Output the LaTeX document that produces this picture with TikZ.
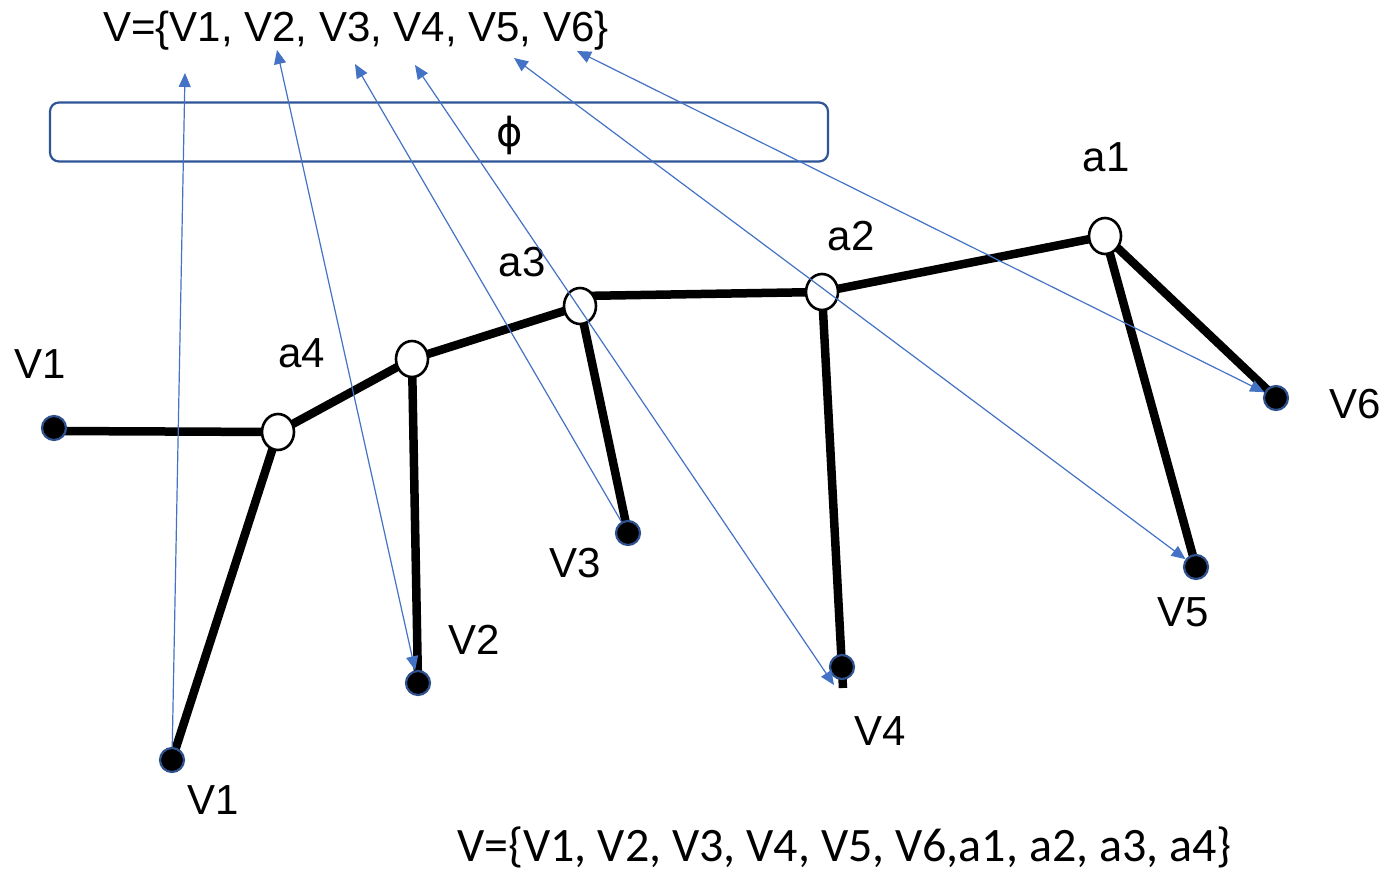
\documentclass[tikz,border=0pt]{standalone}
\usepackage{fontspec}
\setmainfont{Liberation Sans}
\newfontfamily\calfont{Carlito}
\newfontfamily\djfont{DejaVu Sans}
\usetikzlibrary{shapes.geometric,arrows.meta,backgrounds}
\definecolor{linkblue}{HTML}{4472C4}
\definecolor{dotblue}{HTML}{2F528F}
\definecolor{boxblue}{HTML}{2F5597}
\begin{document}
\begin{tikzpicture}[x=1pt,y=-1pt,
  hub/.style={ellipse,draw=black,fill=white,line width=2.6pt,minimum width=32pt,minimum height=36pt,inner sep=0pt},
  leaf/.style={circle,draw=dotblue,fill=black,line width=2.2pt,minimum size=24pt,inner sep=0pt},
  edge/.style={line width=8.5pt,black},
  lab/.style={font=\fontsize{42}{42}\selectfont,inner sep=0pt},
  link/.style={draw=linkblue,line width=1.2pt},
  onetip/.style={link,-{Triangle[length=14pt,width=12pt]}},
  twotip/.style={link,{Triangle[length=14pt,width=12pt]}-{Triangle[length=14pt,width=12pt]}},
  setbox/.style={draw=boxblue,line width=2.2pt,rounded corners=9pt}
]
\useasboundingbox (0,0) rectangle (1388,872);

% hubs
\node[hub] (a4) at (278,432) {};
\node[hub] (b4) at (412,359) {};
\node[hub] (a3) at (580,306) {};
\node[hub] (a2) at (822,292) {};
\node[hub] (a1) at (1105,236) {};
% leaves
\node[leaf] (v1l) at (54,428) {};
\node[leaf] (v1b) at (172,760) {};
\node[leaf] (v2) at (418,683) {};
\node[leaf] (v3) at (628,533) {};
\node[leaf] (v4) at (842,667) {};
\node[leaf] (v5) at (1196,567) {};
\node[leaf] (v6) at (1276,398) {};
\coordinate (v4end) at (843,688);

\begin{scope}[on background layer]
\fill[white] (0,0) rectangle (1388,872);
\draw[edge] ([yshift=-3pt]v1l.center) -- (a4.center);
\draw[edge] (a4.center) -- (v1b.center);
\draw[edge] (a4.center) -- (b4.center);
\draw[edge] (b4.center) -- (v2.center);
\draw[edge] (b4.center) -- (a3.center);
\draw[edge] (a3.center) -- (v3.center);
\draw[edge] ([yshift=10pt]a3.center) -- (a2.center);
\draw[edge] (a2.center) -- (v4end);
\draw[edge] (a2.center) -- (a1.center);
\draw[edge] (a1.center) -- (v5.center);
\draw[edge] (a1.center) -- (v6.center);
\end{scope}

% labels
\node[lab] (lv1l) at (40,364) {V1};
\node[lab] (la4) at (302,353) {a4};
\node[lab] (la3) at (522,262) {a3};
\node[lab] (la2) at (851,236) {a2};
\node[lab] (la1) at (1106,157) {a1};
\node[lab] (lv6) at (1355,404) {V6};
\node[lab] (lv5) at (1183,612) {V5};
\node[lab] (lv4) at (880,731) {V4};
\node[lab] (lv2) at (474,640) {V2};
\node[lab] (lv3) at (575,563) {V3};
\node[lab] (lv1b) at (213,800) {V1};

% box
\node[setbox,minimum width=778pt,minimum height=59pt,inner sep=0pt] (phi) at (439,132) {};
\node[font=\djfont\fontsize{40}{40}\selectfont,inner sep=0pt] (phitext) at (510,135) {ϕ};

% texts
\node[anchor=base west,inner sep=0pt,font=\fontsize{42}{42}\selectfont] (topset) at (103,42) {V=\{V1, V2, V3, V4, V5, V6\}};
\node[anchor=base west,inner sep=0pt,font=\calfont\fontsize{48}{48}\selectfont] (botset) at (457,861) {V=\{V1, V2, V3, V4, V5, V6,a1, a2, a3, a4\}};

% arrow ends near the top text
\coordinate (t1) at (185,73);
\coordinate (t2) at (277,50);
\coordinate (t3) at (355,64);
\coordinate (t4) at (415,65);
\coordinate (t5) at (514,58);
\coordinate (t6) at (577,51);
\coordinate (e4) at (834,685);

\draw[onetip] (v1b) -- (t1);
\draw[twotip] (t2) -- (v2);
\draw[onetip] (v3) -- (t3);
\draw[twotip] (t4) -- (e4);
\draw[twotip] (t5) -- (v5);
\draw[twotip] (t6) -- (v6);
\end{tikzpicture}
\end{document}
